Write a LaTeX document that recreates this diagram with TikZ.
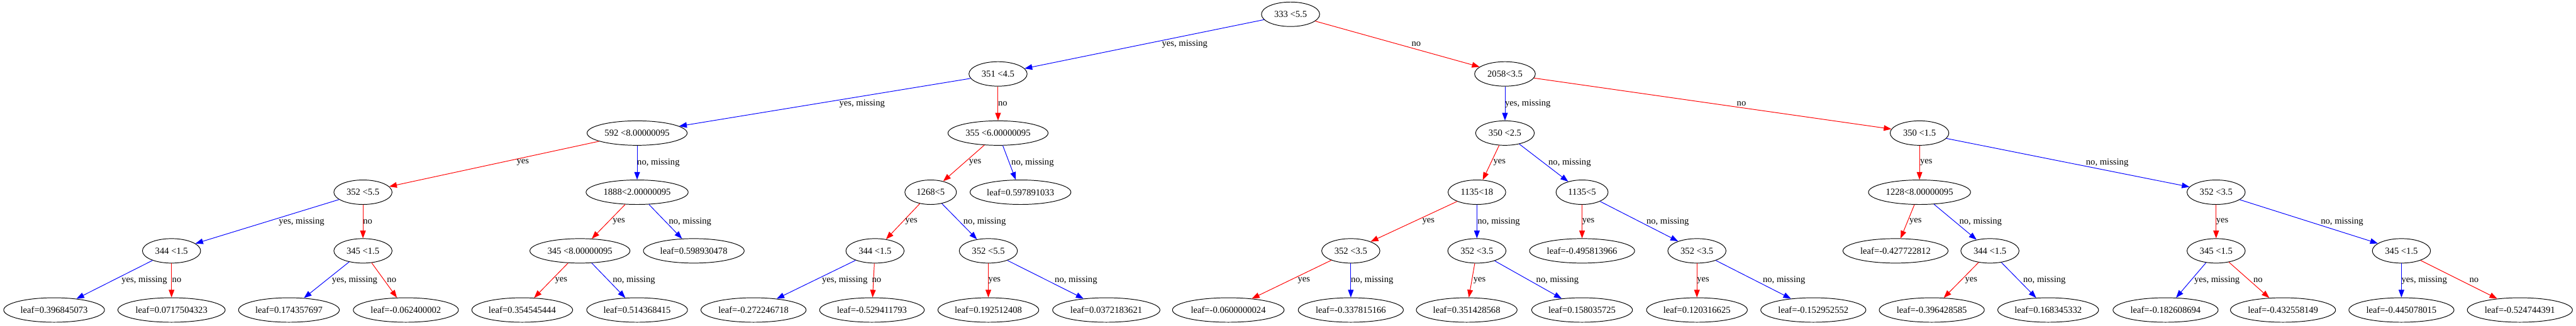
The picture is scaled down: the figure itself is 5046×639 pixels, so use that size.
\documentclass[tikz,border=0pt]{standalone}
\usepackage{fontspec}
\setmainfont{Liberation Serif}
\usetikzlibrary{shapes.geometric,arrows.meta}
\definecolor{ycol}{HTML}{0000FF}
\definecolor{ncol}{HTML}{FF0000}
\tikzset{
  tnode/.style={draw, ellipse, line width=1.2pt, minimum height=48pt, inner xsep=4pt, inner ysep=0pt, font=\fontsize{18}{20}\selectfont},
  lab/.style={anchor=west, inner sep=0pt, font=\fontsize{18}{20}\selectfont},
  yesE/.style={draw=ycol, line width=1.2pt, -{Triangle[length=15pt,width=11pt]}},
  noE/.style={draw=ncol, line width=1.2pt, -{Triangle[length=15pt,width=11pt]}}
}
\begin{document}
\begin{tikzpicture}[x=1pt,y=-1pt]
\useasboundingbox (0,0) rectangle (5046,639);
\fill[white] (0,0) rectangle (5046,639);
% level 1-3
\node[tnode, minimum width=114pt] (r) at (2528,28) {333 <5.5};
\node[tnode, minimum width=114pt] (a) at (1955,145) {351 <4.5};
\node[tnode, minimum width=119pt] (b) at (2948,145) {2058<3.5};
\node[tnode, minimum width=196pt] (c) at (1248,261) {592 <8.00000095};
\node[tnode, minimum width=196pt] (d) at (1955,261) {355 <6.00000095};
\node[tnode, minimum width=115pt] (e) at (2948,261) {350 <2.5};
\node[tnode, minimum width=115pt] (f) at (3760,261) {350 <1.5};
% level 4
\node[tnode, minimum width=114pt] (g) at (711,377) {352 <5.5};
\node[tnode, minimum width=200pt] (h) at (1248,377) {1888<2.00000095};
\node[tnode, minimum width=101pt] (i) at (1823,377) {1268<5};
\node[tnode] (j) at (1999,377) {leaf=0.597891033};
\node[tnode, minimum width=113pt] (k) at (2893,377) {1135<18};
\node[tnode, minimum width=102pt] (l) at (3099,377) {1135<5};
\node[tnode, minimum width=200pt] (m) at (3760,377) {1228<8.00000095};
\node[tnode, minimum width=114pt] (n) at (4341,377) {352 <3.5};
% level 5
\node[tnode, minimum width=114pt] (o) at (336,492) {344 <1.5};
\node[tnode, minimum width=114pt] (p) at (711,492) {345 <1.5};
\node[tnode, minimum width=196pt] (q) at (1136,492) {345 <8.00000095};
\node[tnode] (s) at (1359,492) {leaf=0.598930478};
\node[tnode, minimum width=114pt] (t) at (1714,492) {344 <1.5};
\node[tnode, minimum width=114pt] (u) at (1936,492) {352 <5.5};
\node[tnode, minimum width=114pt] (v) at (2646,492) {352 <3.5};
\node[tnode, minimum width=114pt] (w) at (2893,492) {352 <3.5};
\node[tnode] (x) at (3099,492) {leaf=-0.495813966};
\node[tnode, minimum width=114pt] (y) at (3324,492) {352 <3.5};
\node[tnode] (z) at (3713,492) {leaf=-0.427722812};
\node[tnode, minimum width=114pt] (aa) at (3898,492) {344 <1.5};
\node[tnode, minimum width=114pt] (ab) at (4341,492) {345 <1.5};
\node[tnode, minimum width=114pt] (ac) at (4704,492) {345 <1.5};
% leaves
\node[tnode] (L1) at (106,608) {leaf=0.396845073};
\node[tnode] (L2) at (336,608) {leaf=0.0717504323};
\node[tnode] (L3) at (566,608) {leaf=0.174357697};
\node[tnode] (L4) at (795,608) {leaf=-0.062400002};
\node[tnode] (L5) at (1023,608) {leaf=0.354545444};
\node[tnode] (L6) at (1248,608) {leaf=0.514368415};
\node[tnode] (L7) at (1476,608) {leaf=-0.272246718};
\node[tnode] (L8) at (1708,608) {leaf=-0.529411793};
\node[tnode] (L9) at (1936,608) {leaf=0.192512408};
\node[tnode] (L10) at (2167,608) {leaf=0.0372183621};
\node[tnode] (L11) at (2406,608) {leaf=-0.0600000024};
\node[tnode] (L12) at (2646,608) {leaf=-0.337815166};
\node[tnode] (L13) at (2873,608) {leaf=0.351428568};
\node[tnode] (L14) at (3099,608) {leaf=0.158035725};
\node[tnode] (L15) at (3324,608) {leaf=0.120316625};
\node[tnode] (L16) at (3552,608) {leaf=-0.152952552};
\node[tnode] (L17) at (3784,608) {leaf=-0.396428585};
\node[tnode] (L18) at (4012,608) {leaf=0.168345332};
\node[tnode] (L19) at (4242,608) {leaf=-0.182608694};
\node[tnode] (L20) at (4472,608) {leaf=-0.432558149};
\node[tnode] (L21) at (4704,608) {leaf=-0.445078015};
\node[tnode] (L22) at (4936,608) {leaf=-0.524744391};
% edges level 1-2
\draw[yesE] (r) -- (a); \node[lab] (t1) at (2276,87) {yes, missing};
\draw[noE] (r) -- (b); \node[lab] (t2) at (2765,87) {no};
% level 2-3
\draw[yesE] (a) -- (c); \node[lab] (t3) at (1644,203) {yes, missing};
\draw[noE] (a) -- (d); \node[lab] (t4) at (1955,203) {no};
\draw[yesE] (b) -- (e); \node[lab] (t5) at (2948,203) {yes, missing};
\draw[noE] (b) -- (f); \node[lab] (t6) at (3402,203) {no};
% level 3-4
\draw[noE] (c) -- (g); \node[lab] (t7) at (1012,319) {yes};
\draw[yesE] (c) -- (h); \node[lab] (t8) at (1248,319) {no, missing};
\draw[noE] (d) -- (i); \node[lab] (t9) at (1898,319) {yes};
\draw[yesE] (d) -- (j); \node[lab] (t10) at (1981,319) {no, missing};
\draw[noE] (e) -- (k); \node[lab] (t11) at (2925,319) {yes};
\draw[yesE] (e) -- (l); \node[lab] (t12) at (3033,319) {no, missing};
\draw[noE] (f) -- (m); \node[lab] (t13) at (3761,319) {yes};
\draw[yesE] (f) -- (n); \node[lab] (t14) at (4086,319) {no, missing};
% level 4-5
\draw[yesE] (g) -- (o); \node[lab] (t15) at (546,435) {yes, missing};
\draw[noE] (g) -- (p); \node[lab] (t16) at (711,435) {no};
\draw[noE] (h) -- (q); \node[lab] (t17) at (1200,435) {yes};
\draw[yesE] (h) -- (s); \node[lab] (t18) at (1310,435) {no, missing};
\draw[noE] (i) -- (t); \node[lab] (t19) at (1773,435) {yes};
\draw[yesE] (i) -- (u); \node[lab] (t20) at (1887,435) {no, missing};
\draw[noE] (k) -- (v); \node[lab] (t21) at (2786,435) {yes};
\draw[yesE] (k) -- (w); \node[lab] (t22) at (2894,435) {no, missing};
\draw[noE] (l) -- (x); \node[lab] (t23) at (3099,435) {yes};
\draw[yesE] (l) -- (y); \node[lab] (t24) at (3225,435) {no, missing};
\draw[noE] (m) -- (z); \node[lab] (t25) at (3740,435) {yes};
\draw[yesE] (m) -- (aa); \node[lab] (t26) at (3838,435) {no, missing};
\draw[noE] (n) -- (ab); \node[lab] (t27) at (4341,435) {yes};
\draw[yesE] (n) -- (ac); \node[lab] (t28) at (4546,435) {no, missing};
% level 5-6
\draw[yesE] (o) -- (L1); \node[lab] (t29) at (238,550) {yes, missing};
\draw[noE] (o) -- (L2); \node[lab] (t30) at (337,550) {no};
\draw[yesE] (p) -- (L3); \node[lab] (t31) at (650,550) {yes, missing};
\draw[noE] (p) -- (L4); \node[lab] (t32) at (758,550) {no};
\draw[noE] (q) -- (L5); \node[lab] (t33) at (1087,550) {yes};
\draw[yesE] (q) -- (L6); \node[lab] (t34) at (1200,550) {no, missing};
\draw[yesE] (t) -- (L7); \node[lab] (t35) at (1610,550) {yes, missing};
\draw[noE] (t) -- (L8); \node[lab] (t36) at (1708,550) {no};
\draw[noE] (u) -- (L9); \node[lab] (t37) at (1936,550) {yes};
\draw[yesE] (u) -- (L10); \node[lab] (t38) at (2066,550) {no, missing};
\draw[noE] (v) -- (L11); \node[lab] (t39) at (2542,550) {yes};
\draw[yesE] (v) -- (L12); \node[lab] (t40) at (2646,550) {no, missing};
\draw[noE] (w) -- (L13); \node[lab] (t41) at (2886,550) {yes};
\draw[yesE] (w) -- (L14); \node[lab] (t42) at (3009,550) {no, missing};
\draw[noE] (y) -- (L15); \node[lab] (t43) at (3324,550) {yes};
\draw[yesE] (y) -- (L16); \node[lab] (t44) at (3453,550) {no, missing};
\draw[noE] (aa) -- (L17); \node[lab] (t45) at (3849,550) {yes};
\draw[yesE] (aa) -- (L18); \node[lab] (t46) at (3963,550) {no, missing};
\draw[yesE] (ab) -- (L19); \node[lab] (t47) at (4298,550) {yes, missing};
\draw[noE] (ab) -- (L20); \node[lab] (t48) at (4414,550) {no};
\draw[yesE] (ac) -- (L21); \node[lab] (t49) at (4704,550) {yes, missing};
\draw[noE] (ac) -- (L22); \node[lab] (t50) at (4837,550) {no};
\end{tikzpicture}
\end{document}
